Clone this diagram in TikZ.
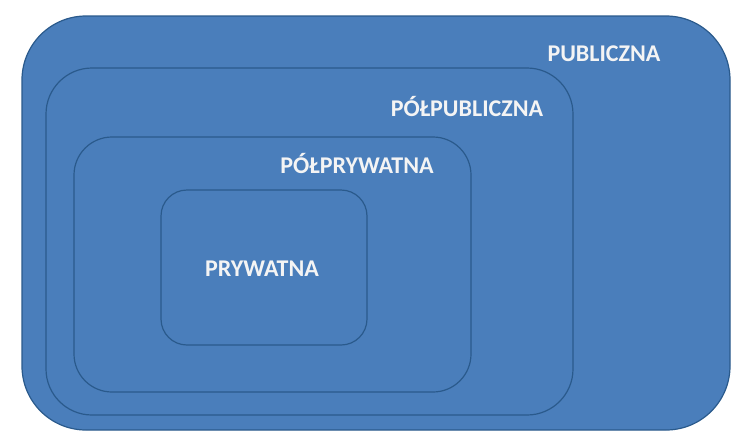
\documentclass[tikz,border=0pt]{standalone}
\usepackage{fontspec}
\setmainfont{Carlito}
\definecolor{boxfill}{HTML}{4A7EBB}
\definecolor{boxline}{HTML}{2A5A8C}
\definecolor{labeltext}{HTML}{F4F4F4}
\begin{document}
\begin{tikzpicture}[x=1pt,y=-1pt,
  zone/.style={draw=boxline,fill=boxfill,line width=1.2pt},
  zonelabel/.style={text=labeltext,font=\bfseries\fontsize{24}{26}\selectfont,inner sep=0pt,anchor=center}]
\useasboundingbox (0,0) rectangle (731,432);
\fill[white] (0,0) rectangle (731,432);
\draw[zone,rounded corners=64pt] (22,16) rectangle (730,430);
\draw[zone,rounded corners=46pt] (46,68) rectangle (573,415);
\draw[zone,rounded corners=38pt] (74,137) rectangle (471,392);
\draw[zone,rounded corners=26pt] (161,190) rectangle (367,345);
\node[zonelabel] (publiczna) at (604,54) {PUBLICZNA};
\node[zonelabel] (polpubliczna) at (467,107) {PÓŁPUBLICZNA};
\node[zonelabel] (polprywatna) at (357,163) {PÓŁPRYWATNA};
\node[zonelabel] (prywatna) at (262,269) {PRYWATNA};
\end{tikzpicture}
\end{document}
